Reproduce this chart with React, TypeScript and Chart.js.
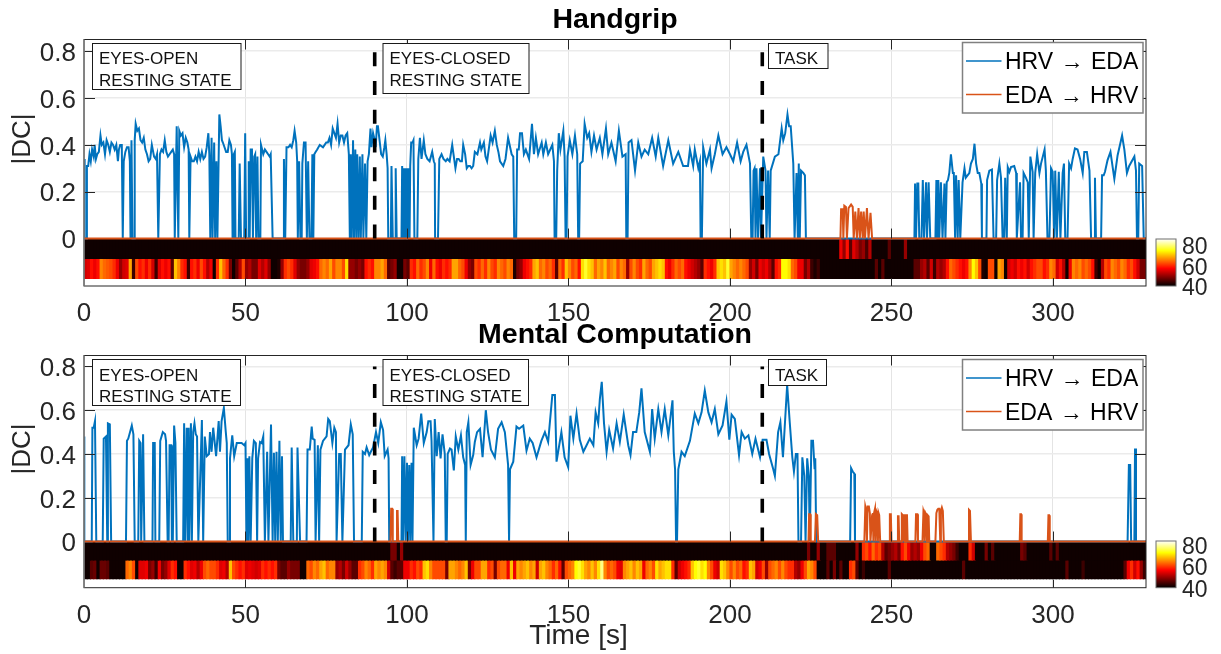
import React, { useEffect, useRef } from "react";
import { Chart, registerables } from "chart.js";

Chart.register(...registerables);

const FONT = "'Liberation Sans', Arial, sans-serif";
const INK = "#262626";

const xTickValues = [0, 50, 100, 150, 200, 250, 300];
const yTickValues = [0, 0.2, 0.4, 0.6, 0.8];
const colorbarTicks = [80, 60, 40];
const phaseBoundaries = [90, 210];
const seriesNames = ["HRV \u2192 EDA", "EDA \u2192 HRV"];

const hgHrv: [number, number][] = [
  [0,.34],[.2,0],[.7,0],[.9,.31],[1.3,.31],[1.7,.36],[2.1,.33],[2.5,.38],[3,.35],[3.3,.4],[3.7,.34],[4.1,.36],[4.6,.37],[5.1,.44],[5.5,.4],[6,.41],[6.5,.36],[7,.42],[7.5,.4],[8,.37],[8.5,.41],[9,.4],[9.5,.38],[10,.4],[10.5,.33],[10.8,.38],[11.2,.4],[11.7,.4],[12,0],[12.3,.33],[12.8,.37],[13.3,.39],[13.8,.39],[14.2,.33],[14.4,0],[14.7,.42],[15,0],[15.5,0],[15.7,.42],[16,.49],[16.5,.46],[17,.47],[17.5,.42],[18,.41],[18.5,.43],[19,.38],[19.5,.36],[20,.33],[20.5,.34],[21,.4],[21.7,.35],[22.2,.34],[22.6,.36],[23,0],[23.2,0],[23.5,.36],[24,.38],[24.5,.37],[25,.42],[25.5,.37],[26,.35],[26.5,.36],[27,.37],[27.5,.38],[27.9,.36],[28.1,0],[28.7,.48],[29.2,0],[29.5,.46],[30,.44],[30.5,.45],[31,.39],[31.5,.43],[32,.41],[32.4,.38],[32.6,0],[33,.35],[33.5,.33],[34,.33],[34.5,.35],[35,.33],[35.5,.37],[36,.34],[36.5,.37],[37,.34],[37.5,.35],[38,.39],[38.5,.45],[38.8,.36],[39.1,0],[39.5,.43],[39.8,0],[40.3,.41],[40.6,0],[41,.33],[41.3,0],[41.9,.53],[42.3,.48],[42.7,.42],[43,.41],[43.5,.39],[44,.37],[44.5,.37],[45,.42],[45.5,.4],[45.8,.36],[46,0],[46.2,0],[46.4,.36],[46.7,.37],[46.9,0],[47.9,0],[48.2,.32],[48.6,0],[49.6,0],[49.9,.45],[50.2,0],[50.8,0],[51,.33],[51.3,0],[51.6,.38],[52,.38],[52.3,0],[52.7,.35],[53,.36],[53.3,0],[53.7,.35],[54,0],[54.6,0],[54.8,.4],[55.5,.36],[56,.38],[56.5,.37],[57,.36],[57.5,.35],[57.8,.36],[58.4,0],[61.7,0],[61.9,.34],[62.3,0],[62.7,.39],[63.3,.39],[63.8,.4],[64.3,.39],[64.8,.42],[65.2,.46],[65.7,.41],[66,.33],[66.2,0],[66.6,.33],[67,0],[67.4,0],[67.6,.32],[68.1,.41],[68.6,.41],[69,0],[69.4,.33],[69.8,0],[70.4,0],[70.7,.36],[71,0],[71.3,.36],[71.7,.37],[72.2,.38],[73,.4],[74,.39],[74.5,.4],[75,.41],[75.5,.41],[76,.43],[76.5,.4],[77,.47],[77.5,.45],[78,.43],[78.5,.49],[79,.41],[79.5,.44],[80,.44],[80.5,.41],[81,.44],[81.5,.45],[82,.36],[82.3,0],[82.6,.36],[82.9,0],[83.3,.42],[83.6,0],[84,.38],[84.3,0],[84.6,.36],[85,0],[85.4,.35],[85.7,0],[86.2,.36],[86.5,0],[87,.32],[87.4,0],[87.8,.33],[88.2,.36],[88.7,.47],[89,.39],[89.5,.45],[90,.42],[90.3,.39],[90.7,.48],[91,.48],[91.5,.42],[92,.36],[92.5,.35],[93,.39],[93.3,.42],[93.7,.36],[94,.3],[94.2,0],[95,0],[95.2,.31],[95.6,0],[96.3,0],[96.5,.3],[96.8,0],[98.3,0],[98.5,.31],[98.8,0],[99,.3],[99.3,0],[99.5,.3],[99.8,0],[100,.3],[100.3,0],[100.5,.3],[100.8,0],[101,.31],[101.3,.41],[101.7,.41],[102,.42],[102.3,0],[102.8,0],[103.2,0],[103.5,.34],[104,.43],[104.5,.34],[105.2,.42],[105.7,.36],[106.3,.34],[107,.33],[107.8,.37],[108.3,.33],[108.6,.32],[108.7,0],[109.6,0],[110,.34],[110.7,.36],[111.3,.34],[112,.33],[112.5,.34],[113.2,.33],[114,.4],[114.6,.34],[115,.3],[115.5,.34],[116,.34],[116.5,.33],[117,.33],[117.4,.4],[118,.36],[118.5,.3],[119,.31],[119.5,.31],[120,.3],[120.5,.31],[121,.37],[121.8,.36],[122.6,.41],[123,.38],[123.8,.41],[124.3,.35],[124.8,.33],[125.9,.44],[126.5,.41],[127.2,.46],[127.8,.4],[128.3,.37],[128.8,.33],[129.8,.31],[130.5,.34],[131.3,.43],[132.4,.36],[132.9,.35],[133.2,0],[133.8,0],[134.1,.38],[134.6,.38],[135,.45],[135.6,.45],[136.2,.36],[136.8,.38],[137.8,.34],[138.7,.49],[139.3,.36],[139.9,.43],[140.6,.36],[141.7,.41],[142.2,.36],[143,.41],[143.7,.36],[145,.4],[145.5,.33],[145.7,0],[146.2,0],[146.5,.29],[147,.45],[147.5,.38],[148.4,.46],[148.8,.35],[149.1,0],[149.4,0],[149.7,.35],[150.4,.42],[151.2,.36],[152,.44],[152.7,.36],[153,0],[153.3,0],[153.6,.32],[154.4,.33],[155,.49],[155.8,.43],[156.4,.45],[157.1,.37],[157.9,.44],[158.7,.38],[159.7,.43],[160.5,.36],[161.6,.47],[162.3,.36],[163.3,.41],[164.6,.33],[165.6,.46],[166.7,.35],[167.7,.36],[167.9,0],[168.3,0],[168.6,.41],[169.5,.42],[170.6,.29],[171.6,.41],[172.6,.35],[173.6,.38],[174.7,.36],[175.9,.43],[177,.35],[177.8,.43],[179.3,.31],[180.9,.42],[182.4,.32],[184,.37],[185.5,.31],[187,.31],[187.6,.38],[188.6,.31],[189.1,.38],[190.2,.3],[190.7,.33],[190.9,0],[191.3,0],[191.7,.39],[192.7,.32],[193.8,.38],[194.3,.3],[195.3,.36],[196.4,.44],[197.7,.36],[198.9,.39],[200,.36],[201,.33],[202.2,.41],[203.3,.33],[204.1,.37],[205.1,.4],[206.2,.32],[206.6,0],[207,0],[207.3,.29],[207.6,.3],[207.9,0],[208.2,.3],[208.7,0],[209.3,.3],[209.6,0],[210.3,.35],[211,.29],[211.3,0],[211.8,.29],[212.3,0],[212.6,.29],[213.9,.35],[215,.36],[216,.47],[216.5,.42],[217.1,.45],[217.8,.53],[218.3,.48],[218.8,.48],[219.6,.32],[220,0],[220.6,.28],[221,0],[221.3,.32],[221.6,0],[222,.29],[222.7,.28],[223.2,.27],[223.5,0],[257.1,0],[257.3,.235],[257.6,0],[258,.235],[258.3,.235],[258.6,0],[259.3,0],[259.7,.25],[260.1,0],[260.7,.24],[261,0],[261.5,.24],[262,0],[263.6,0],[263.9,.25],[264.2,0],[264.5,.25],[264.8,0],[265.3,.24],[265.8,0],[266.4,.235],[266.7,0],[267.1,.24],[267.5,.25],[267.9,.28],[268.4,.36],[269,.28],[269.3,.28],[269.7,0],[270,.27],[270.5,0],[270.8,.25],[271.3,0],[272,.24],[272.6,.3],[273,.26],[274.1,.28],[274.6,.32],[275.2,.34],[275.7,.405],[276.2,.32],[276.7,.28],[277.2,.28],[277.8,.235],[278,0],[279.4,0],[279.6,.25],[280.3,.29],[281.1,.295],[281.6,0],[282.4,0],[282.7,.25],[283.4,.32],[283.9,.26],[284.4,0],[284.9,0],[285.2,.26],[285.7,0],[286,.305],[286.5,.285],[287,.305],[288,.31],[288.6,.28],[288.8,0],[289.8,.24],[290.1,0],[290.6,0],[290.9,.28],[291.6,.26],[292.2,.24],[292.5,0],[293,.35],[293.7,.285],[294,0],[294.5,.28],[295.1,.36],[295.8,.28],[296.3,.32],[297.4,.38],[297.8,.29],[298.3,0],[298.9,0],[299.4,.3],[299.9,.285],[300.4,0],[300.7,.29],[301.2,0],[301.8,.285],[302.3,0],[303,.28],[303.4,.32],[303.8,0],[304.5,0],[305,.32],[305.6,.3],[306.1,.34],[306.8,.385],[307.6,.38],[308.4,.34],[309.2,.28],[309.7,.37],[310.5,.37],[311.3,.29],[311.8,0],[312.8,0],[313,.26],[313.3,0],[314.9,0],[315.2,.27],[315.7,.27],[316.1,.285],[316.9,.335],[317.8,.37],[319,.255],[320,.355],[321.4,.44],[322.1,.38],[322.9,.28],[323.6,.31],[325.2,.35],[325.7,.29],[326,0],[326.4,0],[326.7,.32],[327.6,.31],[328.1,0],[329,0],
];

const hgEda: [number, number][] = [
  [0,0],[234.2,0],[234.4,.125],[234.9,.125],[235.1,0],[235.4,.14],[235.9,.135],[236.2,0],[236.7,.13],[237.5,.145],[238,.135],[238.3,0],[238.8,.115],[239.3,0],[239.8,.13],[240.2,0],[240.6,.115],[241.1,0],[241.4,.115],[241.8,0],[242.4,.13],[242.9,0],[243.5,.11],[244,0],[329,0],
];

const mcHrv: [number, number][] = [
  [0,.48],[.1,0],[2.4,0],[2.6,.52],[3,.52],[3.4,.55],[3.8,0],[5.8,0],[6.1,.47],[6.8,.48],[7.2,0],[7.4,.54],[8,.535],[8.4,0],[13,0],[13.3,.46],[13.7,.47],[14.8,.53],[15.3,.49],[15.7,0],[16.8,0],[17.1,.46],[17.5,.45],[17.7,0],[18.3,.49],[18.7,0],[21.2,0],[21.4,.45],[21.9,.45],[22.1,0],[23.3,0],[23.6,.46],[24.4,.5],[25.1,.49],[25.4,.46],[25.9,0],[26.2,0],[26.5,.44],[27,.44],[27.2,0],[27.5,0],[27.9,.53],[28.3,.45],[28.7,0],[30.7,0],[31,.54],[31.3,0],[31.8,.52],[32.1,0],[32.4,.52],[32.6,0],[33.1,.54],[33.4,0],[33.8,.5],[34.2,.54],[34.6,.49],[35,.48],[35.4,0],[36.5,.555],[36.9,0],[37.4,.48],[38,.39],[38.7,.4],[39,.5],[39.5,.41],[40,.52],[40.9,.39],[41.7,.55],[42.1,.41],[42.6,.55],[43.3,.61],[43.9,.5],[44.2,.45],[44.5,0],[45,0],[45.2,.38],[45.9,.485],[46.5,.39],[47.3,.45],[48.1,.45],[48.8,.45],[49.6,.44],[50,.45],[50.3,0],[50.6,.38],[50.9,0],[51.2,.39],[51.6,0],[52.1,.38],[52.6,.46],[53.2,.45],[53.6,0],[53.9,.38],[54.5,.455],[55,.45],[55.5,.48],[56,0],[56.7,.41],[57.1,0],[57.9,.535],[58.4,0],[58.8,.405],[59.2,0],[59.6,.41],[60,0],[60.5,.46],[60.9,0],[61.3,.39],[61.6,0],[64,0],[64.3,.43],[64.8,0],[65.9,0],[66.1,.43],[66.9,0],[68.9,0],[69.2,.42],[69.9,.42],[70.5,.525],[70.8,.47],[71.4,.465],[71.7,0],[72.4,.44],[72.8,0],[73.2,.42],[74,.46],[75.1,.48],[75.6,.56],[76.1,.55],[76.9,.45],[77.5,.52],[78,.5],[78.2,0],[79,.4],[79.5,.4],[80,0],[80.8,.42],[81.9,.44],[82.6,.535],[83.2,.49],[83.6,0],[86,0],[86.3,.41],[87,.4],[87.5,.43],[88.3,.395],[88.8,.41],[89.5,.43],[90.4,.5],[91.1,.45],[91.9,.545],[92.6,.51],[93.1,.39],[94,.42],[94.3,.38],[94.5,0],[98.3,0],[98.5,.39],[98.8,0],[99.2,.39],[99.6,0],[100,.36],[100.3,0],[100.7,.35],[101,0],[101.4,.36],[101.7,0],[102.1,.52],[103,.44],[103.6,.47],[104.4,.585],[105.2,.45],[106.1,.5],[106.6,.55],[107.3,.55],[107.6,.46],[108.2,0],[108.6,.56],[109.2,.39],[109.8,.5],[110.4,.38],[111,.49],[111.7,.4],[112,0],[112.3,0],[112.6,.4],[113.3,.425],[113.8,.42],[114.5,.325],[115.1,.48],[115.9,.42],[116.7,.485],[117.4,.385],[118,.35],[118.2,0],[118.5,.5],[119,.545],[119.7,.35],[120.5,.395],[121,.455],[121.7,.5],[122.6,.515],[123.4,.385],[124.4,.6],[125.1,.5],[126,.42],[127.2,.385],[128.2,.515],[129.3,.545],[130.3,.5],[131.3,.35],[131.6,0],[131.9,.33],[132.9,.365],[133.9,.525],[134.7,.515],[136,.53],[137,.415],[138,.47],[138.9,.45],[140.1,.385],[141.6,.46],[142.7,.5],[143.7,.455],[145,.67],[145.8,.67],[146.3,.365],[147.8,.5],[148.8,.385],[149.9,.34],[150.6,.575],[151.5,.47],[152.5,.585],[153.5,.465],[154.6,.41],[155.6,.44],[156.6,.47],[157.7,.44],[158.4,.59],[159.2,.54],[159.7,.65],[160.3,.73],[161,.54],[161.8,.41],[162.6,.51],[163.8,.425],[164.9,.54],[165.9,.455],[167.1,.58],[168.5,.44],[169.2,.395],[170,.5],[171,.5],[171.9,.59],[172.6,.7],[173.6,.5],[175.2,.41],[175.9,.605],[176.7,.47],[177.8,.605],[178.8,.5],[179.8,.605],[180.9,.485],[182.2,.645],[182.6,.41],[183,.33],[183.3,0],[183.6,0],[184,.33],[185,.41],[186,.39],[187.6,.46],[189.1,.585],[190.2,.54],[191.2,.59],[192.2,.69],[193.3,.59],[194.3,.545],[195.3,.605],[196.4,.49],[197.7,.53],[198.9,.64],[199.8,.465],[200.5,.58],[201.5,.56],[202.8,.395],[203.6,.5],[204.6,.47],[205.7,.485],[206.9,.4],[207.9,.47],[209.3,.385],[210.1,.465],[211.3,.465],[212.1,.4],[213.4,.33],[213.9,.3],[214.9,.5],[215.6,.545],[216.4,.385],[217.7,.715],[218.5,.545],[219.3,.385],[219.8,.32],[220.4,.4],[220.9,.4],[221.2,0],[222,0],[222.4,.385],[223,.3],[223.4,0],[223.9,.38],[224.4,.3],[224.7,0],[225.2,.46],[225.7,.46],[226.2,.33],[226.4,.38],[226.7,0],[237.2,0],[237.5,.335],[238,.32],[238.5,.31],[238.7,0],[323.1,0],[323.5,.35],[323.9,.35],[324.2,0],[325.2,0],[325.4,.425],[325.7,0],[329,0],
];

const mcEda: [number, number][] = [
  [0,0],[94.9,0],[95.1,.15],[95.4,.15],[95.6,0],[96.7,0],[96.9,.14],[97.1,.14],[97.3,0],[224.3,0],[224.5,.125],[224.8,.125],[225,0],[226.3,0],[226.6,.125],[227,.12],[227.3,0],[241.6,0],[241.9,.16],[242.2,.14],[242.4,0],[242.6,.16],[243,.16],[243.3,.13],[243.5,0],[244,.12],[244.2,.13],[244.4,0],[244.6,.13],[244.9,.15],[245.1,0],[245.3,.14],[245.6,.13],[245.8,0],[246,.13],[246.2,.12],[246.5,0],[249.4,0],[249.5,.125],[249.8,.125],[250,0],[251.8,0],[252,.115],[252.2,.115],[252.4,0],[253,0],[253.2,.125],[253.5,.12],[253.7,0],[253.9,.12],[254,.125],[254.2,0],[254.4,.12],[254.8,.12],[255,0],[257.4,0],[257.6,.125],[258,.125],[258.2,0],[259.6,0],[259.9,.14],[260.1,.13],[260.3,0],[260.5,.13],[260.8,.12],[261,0],[261.2,.12],[261.5,.115],[261.7,0],[263.6,0],[263.9,.13],[264.2,.145],[264.5,.15],[264.8,.15],[265.1,0],[265.3,.14],[265.6,.155],[265.9,.14],[266.2,0],[273.7,0],[274,.145],[274.3,.14],[274.6,0],[289.7,0],[289.9,.125],[290.1,.125],[290.3,0],[298.4,0],[298.6,.12],[298.8,.12],[299,0],[329,0],
];

// One-second heat strip cells (40..80 colour scale)
const hgLowerRow = [
  54,55,58,56,58,66,64,63,62,60, 56,50,54,55,68,44,62,58,60,56, 60,54,44,55,58,56,58,46,70,66, 60,58,44,58,60,56,62,58,52,56,
  41,60,70,64,60,48,41,46,52,62, 50,52,48,48,55,52,55,50,41,41, 42,50,60,62,60,55,50,48,48,50, 55,56,58,64,66,64,68,62,66,66,
  62,72,50,50,48,50,48,58,60,58, 66,66,68,64,46,48,50,41,41,48, 46,60,58,64,60,62,66,56,64,58, 56,60,58,60,68,68,64,62,56,50,
  48,62,60,64,60,66,62,60,66,64, 62,66,64,42,48,50,56,58,60,68, 70,64,66,62,64,60,46,64,60,70, 66,62,64,58,72,76,72,70,64,68,
  66,70,64,66,68,62,66,64,50,62, 66,62,60,68,64,62,68,70,72,70, 58,56,60,64,62,64,58,56,54,52, 50,46,60,58,56,60,70,72,70,76,
  68,66,64,66,64,62,50,54,48,56, 54,56,52,46,58,60,74,74,72,64, 62,56,56,48,52,44,42,44,41,41, 41,41,41,41,41,41,41,41,41,41,
  41,41,41,41,41,46,41,46,41,41, 41,41,41,41,41,41,41,46,46,50, 52,46,54,44,52,50,52,58,64,62, 60,58,56,58,66,74,70,62,42,41,
  62,62,41,68,66,41,54,56,54,58, 56,58,54,58,60,62,62,58,60,66, 64,54,58,52,41,56,66,64,66,62, 64,62,58,44,41,52,62,60,66,64,
  62,66,64,60,62,58,54,48,48,
];
const hgUpperRow = [
  ...new Array(234).fill(41),
  56,50,58,46,55,52,48,50,45,52, 41,41,41,41,41,46,41,41,41,41, 50,
  ...new Array(74).fill(41),
];

const mcLowerRow = [
  41,41,46,47,41,47,47,46,41,41, 41,41,41,64,66,62,41,55,55,56, 48,50,44,56,48,50,55,60,58,41, 41,60,58,55,56,52,56,62,64,62,
  62,60,55,56,52,70,62,60,58,60, 55,56,55,54,55,60,58,60,58,60, 48,46,46,50,48,48,48,41,41,64, 62,66,64,68,70,64,66,66,50,52,
  48,54,50,46,46,60,62,66,64,60, 68,66,68,66,54,46,44,46,46,56, 56,60,58,62,60,70,72,66,62,62, 62,62,48,68,68,66,64,66,70,48,
  56,62,62,68,68,60,62,48,62,64, 64,56,70,56,68,66,68,70,66,68, 54,68,70,66,64,60,64,58,46,62, 64,66,74,76,72,68,66,70,66,72,
  80,66,62,64,62,56,55,66,68,70, 66,70,68,56,64,66,62,72,68,70, 72,72,60,46,54,56,58,60,70,74, 76,72,74,66,62,56,54,72,70,66,
  62,66,62,64,58,60,70,68,54,56, 62,50,62,64,66,62,66,62,60,60, 52,50,56,62,68,66,62,41,41,41, 46,41,48,41,46,41,41,60,62,46,
  41,44,41,41,41,41,41,41,41,46, 41,41,41,41,41,41,41,41,41,41, 41,41,41,41,41,41,41,41,41,41, 41,41,46,41,41,41,41,41,41,41,
  41,41,41,41,41,41,41,41,41,41, 41,41,41,41,41,41,41,41,41,41, 41,41,41,41,46,41,41,41,41,44, 41,41,41,41,41,41,41,41,41,41,
  41,41,46,56,60,54,58,50,44,
];
const mcUpperRow = [
  ...new Array(95).fill(41), 48,48,41,50,
  ...new Array(125).fill(41),
  48,41,41,50,41,41,46,46,46,41,41,41,41,41,41,50,41,60,62,58,64,60,62,52,46,48,50,52,48,58,62,56,50,52,50,56,62,64,41,41,64,62,60,52,50,48,44,41,41,41,60,54,41,41,41,48,41,46,
  ...new Array(8).fill(41), 48,46,
  ...new Array(7).fill(41), 46,41,46,
  ...new Array(27).fill(41),
];

const clamp01 = (v: number) => Math.max(0, Math.min(1, v));
function hot(value: number) {
  const t = clamp01((value - 40) / 40);
  const r = Math.round(255 * clamp01(t / 0.375));
  const g = Math.round(255 * clamp01((t - 0.375) / 0.375));
  const b = Math.round(255 * clamp01((t - 0.75) / 0.25));
  return `rgb(${r},${g},${b})`;
}
const cellColor = (value: number) => hot(40 + (value - 40) * 0.88);

const heatBar = (row: number[], hi: number, lo: number) => ({
  type: "bar" as const,
  label: "heat",
  data: row.map((_, i) => ({ x: i + 0.5, y: [lo, hi] })),
  backgroundColor: row.map(cellColor),
  barThickness: 3.7,
  grouped: false,
  borderWidth: 0,
  order: 10,
});

type Box = { x0: number; x1: number; y0: number; y1: number; lines: string[]; ys: number[] };
type Panel = {
  title: string;
  hrv: [number, number][];
  eda: [number, number][];
  upper: number[];
  lower: number[];
  top: number;
  height: number;
  xScaleHeight: number;
  titlePad: { top: number; bottom: number };
  yMin: number;
  boxes: Box[];
  legendY: number;
  dcY: number;
  bar: { top: number; bottom: number; labelYs: number[] };
  timeLabelY?: number;
};

const panels: Panel[] = [
  {
    title: "Handgrip",
    hrv: hgHrv,
    eda: hgEda,
    upper: hgUpperRow,
    lower: hgLowerRow,
    top: 0,
    height: 330,
    xScaleHeight: 44,
    titlePad: { top: 5.5, bottom: 5.5 },
    yMin: -0.2026,
    boxes: [
      { x0: 92.5, x1: 241, y0: 43.5, y1: 89.5, lines: ["EYES-OPEN", "RESTING STATE"], ys: [59.5, 81] },
      { x0: 383, x1: 529, y0: 43.5, y1: 93.5, lines: ["EYES-CLOSED", "RESTING STATE"], ys: [59.5, 81] },
      { x0: 768.5, x1: 828, y0: 43.5, y1: 68.5, lines: ["TASK"], ys: [59] },
    ],
    legendY: 42.5,
    dcY: 139,
    bar: { top: 239, bottom: 286, labelYs: [247.5, 268.5, 289] },
  },
  {
    title: "Mental Computation",
    hrv: mcHrv,
    eda: mcEda,
    upper: mcUpperRow,
    lower: mcLowerRow,
    top: 320,
    height: 334,
    xScaleHeight: 66.3,
    titlePad: { top: 1, bottom: 6 },
    yMin: -0.211,
    boxes: [
      { x0: 92.5, x1: 240.5, y0: 39.5, y1: 85.5, lines: ["EYES-OPEN", "RESTING STATE"], ys: [56, 77] },
      { x0: 383, x1: 528.5, y0: 39.5, y1: 85.5, lines: ["EYES-CLOSED", "RESTING STATE"], ys: [56, 77] },
      { x0: 768.5, x1: 826.5, y0: 39.5, y1: 65.5, lines: ["TASK"], ys: [56] },
    ],
    legendY: 39.5,
    dcY: 129,
    bar: { top: 221, bottom: 267.7, labelYs: [228, 248.7, 270.3] },
    timeLabelY: 316,
  },
];

function decorPlugin(p: Panel) {
  return {
    id: "decor",
    afterDatasetsDraw(chart: any) {
      const { ctx, chartArea: a, scales } = chart;
      const { x: xs, y: ys } = scales;
      ctx.save();
      ctx.textBaseline = "middle";

      // inner ticks
      ctx.strokeStyle = INK;
      ctx.lineWidth = 1;
      ctx.beginPath();
      xTickValues.slice(1).forEach((t) => {
        const px = Math.round(xs.getPixelForValue(t)) + 0.5;
        ctx.moveTo(px, a.top);
        ctx.lineTo(px, a.top + 10);
        ctx.moveTo(px, a.bottom);
        ctx.lineTo(px, a.bottom - 8);
        ctx.moveTo(px, ys.getPixelForValue(0));
        ctx.lineTo(px, ys.getPixelForValue(0) - 10);
      });
      yTickValues.slice(1).forEach((v) => {
        const py = Math.round(ys.getPixelForValue(v)) + 0.5;
        ctx.moveTo(a.left, py);
        ctx.lineTo(a.left + 11, py);
        ctx.moveTo(a.right, py);
        ctx.lineTo(a.right - 11, py);
      });
      ctx.stroke();

      // axes box
      ctx.strokeStyle = INK;
      ctx.strokeRect(a.left, a.top, a.right - a.left, a.bottom - a.top);
      ctx.strokeStyle = "#808080";
      ctx.lineWidth = 1.5;
      ctx.beginPath();
      ctx.moveTo(a.left, a.top);
      ctx.lineTo(a.left, a.bottom);
      ctx.stroke();

      // phase boxes
      ctx.font = `17px ${FONT}`;
      ctx.textAlign = "left";
      p.boxes.forEach((b) => {
        ctx.fillStyle = "#fff";
        ctx.fillRect(b.x0, b.y0, b.x1 - b.x0, b.y1 - b.y0);
        ctx.strokeStyle = "#1a1a1a";
        ctx.lineWidth = 1;
        ctx.strokeRect(b.x0, b.y0, b.x1 - b.x0, b.y1 - b.y0);
        ctx.fillStyle = "#111";
        b.lines.forEach((l, i) => ctx.fillText(l, b.x0 + 6.5, b.ys[i]));
      });

      // legend
      const lx0 = 962.5;
      const lx1 = 1143;
      const lTop = p.legendY;
      ctx.fillStyle = "#fff";
      ctx.fillRect(lx0, lTop, lx1 - lx0, 70.5);
      ctx.strokeStyle = "#808080";
      ctx.lineWidth = 1.5;
      ctx.strokeRect(lx0, lTop, lx1 - lx0, 70.5);
      ctx.font = `23px ${FONT}`;
      (ctx as any).wordSpacing = "1px";
      const dsets = chart.data.datasets.filter((d: any) => seriesNames.includes(d.label));
      dsets.forEach((d: any, i: number) => {
        const y = lTop + 18.5 + i * 33.5;
        ctx.strokeStyle = d.borderColor;
        ctx.lineWidth = 1.5;
        ctx.beginPath();
        ctx.moveTo(966, y);
        ctx.lineTo(1001.5, y);
        ctx.stroke();
        ctx.fillStyle = "#000";
        ctx.fillText(d.label, 1005, y + 2);
      });
      (ctx as any).wordSpacing = "0px";

      // colorbar
      const cb = p.bar;
      const g = ctx.createLinearGradient(0, cb.bottom, 0, cb.top);
      [0, 0.125, 0.25, 0.375, 0.5, 0.625, 0.75, 0.875, 1].forEach((s) => g.addColorStop(s, hot(40 + 40 * s)));
      ctx.fillStyle = g;
      ctx.fillRect(1156, cb.top, 20, cb.bottom - cb.top);
      ctx.strokeStyle = "#6e6e6e";
      ctx.lineWidth = 1;
      ctx.strokeRect(1156, cb.top, 20, cb.bottom - cb.top);
      ctx.fillStyle = INK;
      ctx.font = `23px ${FONT}`;
      colorbarTicks.forEach((v, i) => ctx.fillText(String(v), 1182, cb.labelYs[i]));

      // y-axis label
      ctx.save();
      ctx.translate(23, p.dcY);
      ctx.rotate(-Math.PI / 2);
      ctx.textAlign = "center";
      ctx.font = `26px ${FONT}`;
      ctx.fillStyle = INK;
      ctx.fillText("|DC|", 0, 0);
      ctx.restore();

      // x-axis label
      if (p.timeLabelY !== undefined) {
        ctx.textAlign = "center";
        ctx.font = `28px ${FONT}`;
        ctx.fillStyle = INK;
        ctx.fillText("Time [s]", 578.5, p.timeLabelY);
      }
      ctx.restore();
    },
  };
}

function makeConfig(p: Panel): any {
  const vlines = phaseBoundaries.map((t) => ({
    type: "line" as const,
    label: "phase",
    data: [{ x: t, y: 0 }, { x: t, y: 0.8 }],
    borderColor: "#000",
    borderWidth: 3.6,
    borderDash: [14, 14.7],
    pointRadius: 0,
    order: 1,
  }));
  return {
    type: "line",
    data: {
      datasets: [
        heatBar(p.upper, 0, -0.0855),
        heatBar(p.lower, -0.0855, -0.171),
        {
          type: "line",
          label: seriesNames[0],
          data: p.hrv.map(([x, y]) => ({ x, y })),
          borderColor: "#0072bd",
          borderWidth: 2,
          pointRadius: 0,
          tension: 0,
          order: 3,
        },
        {
          type: "line",
          label: seriesNames[1],
          data: p.eda.map(([x, y]) => ({ x, y })),
          borderColor: "#d95319",
          borderWidth: 2,
          pointRadius: 0,
          tension: 0,
          order: 2,
        },
        ...vlines,
      ],
    },
    plugins: [decorPlugin(p)],
    options: {
      responsive: false,
      animation: false,
      events: [],
      layout: { padding: { left: 0, right: 75, top: 0, bottom: 0 } },
      plugins: {
        legend: { display: false },
        tooltip: { enabled: false },
        title: {
          display: true,
          text: p.title,
          fullSize: false,
          color: "#000",
          font: { family: FONT, size: 28.5, weight: "bold", lineHeight: 1 },
          padding: p.titlePad,
        },
      },
      scales: {
        x: {
          type: "linear",
          offset: false,
          min: 0,
          max: 328.8,
          afterBuildTicks: (s: any) => {
            s.ticks = xTickValues.map((value) => ({ value }));
          },
          afterFit: (s: any) => {
            s.height = p.xScaleHeight;
          },
          grid: { color: "#e4e4e4", lineWidth: 1, offset: false, drawTicks: false },
          border: { display: false },
          ticks: { color: INK, font: { family: FONT, size: 26 }, padding: 12.5, maxRotation: 0, autoSkip: false },
        },
        y: {
          type: "linear",
          min: p.yMin,
          max: 0.85,
          afterBuildTicks: (s: any) => {
            s.ticks = yTickValues.map((value) => ({ value }));
          },
          afterFit: (s: any) => {
            s.width = 84;
          },
          grid: { color: "#ebebeb", lineWidth: 1.5, drawTicks: false },
          border: { display: false },
          ticks: {
            color: INK,
            font: { family: FONT, size: 26, lineHeight: 0.2 },
            padding: 8,
            callback: (v: number) => ["", v === 0 ? "0" : v.toFixed(1)],
          },
        },
      },
    },
  };
}

export default function App() {
  const refs = [useRef<HTMLCanvasElement>(null), useRef<HTMLCanvasElement>(null)];
  useEffect(() => {
    const charts = panels.map((p, i) => new Chart(refs[i].current as HTMLCanvasElement, makeConfig(p)));
    return () => charts.forEach((c) => c.destroy());
  }, []);
  return (
    <div style={{ position: "absolute", left: 0, top: 0, width: 1221, height: 654, background: "#fff", overflow: "hidden" }}>
      {panels.map((p, i) => (
        <canvas
          key={p.title}
          ref={refs[i]}
          width={1221}
          height={p.height}
          style={{ position: "absolute", left: 0, top: p.top, width: 1221, height: p.height }}
        />
      ))}
    </div>
  );
}
